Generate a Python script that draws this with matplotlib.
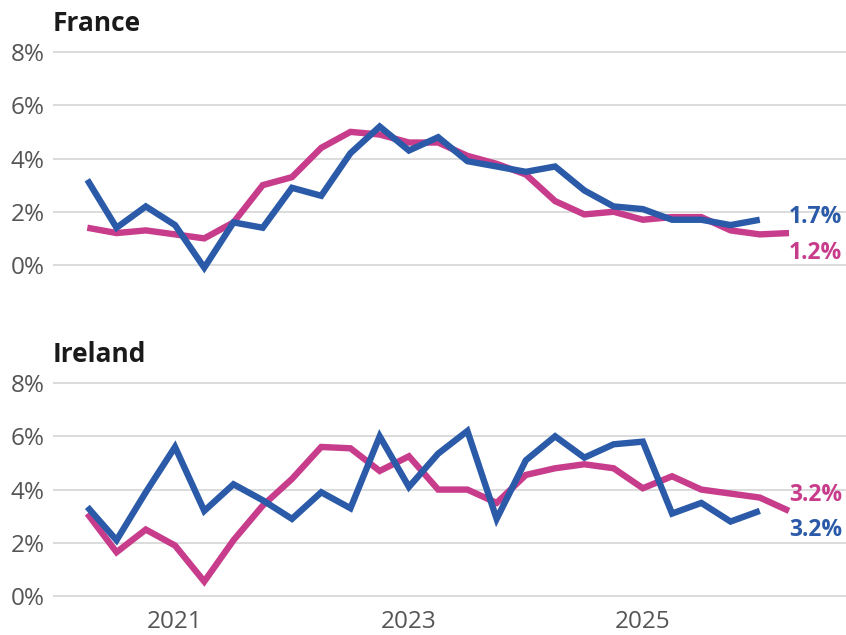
import numpy as np
import matplotlib
matplotlib.use('Agg')
import matplotlib.pyplot as plt

plt.rcParams['font.family'] = ['Open Sans', 'DejaVu Sans']

# quarterly points starting 2020 Q2
quarters = 2020.25 + 0.25 * np.arange(25)

france_blue = [3.2, 1.4, 2.2, 1.5, -0.1, 1.6, 1.4, 2.9, 2.6, 4.2, 5.2, 4.3,
               4.8, 3.9, 3.7, 3.5, 3.7, 2.8, 2.2, 2.1, 1.7, 1.7, 1.5, 1.7]
france_pink = [1.4, 1.2, 1.3, 1.15, 1.0, 1.6, 3.0, 3.3, 4.4, 5.0, 4.9, 4.6,
               4.6, 4.1, 3.8, 3.4, 2.4, 1.9, 2.0, 1.7, 1.8, 1.8, 1.3, 1.15, 1.2]
ireland_blue = [3.35, 2.1, 3.9, 5.6, 3.2, 4.2, 3.6, 2.9, 3.9, 3.3, 6.0, 4.1,
                5.35, 6.2, 2.9, 5.1, 6.0, 5.2, 5.7, 5.8, 3.1, 3.5, 2.8, 3.2]
ireland_pink = [3.1, 1.65, 2.5, 1.9, 0.55, 2.1, 3.4, 4.4, 5.6, 5.55, 4.7, 5.25,
                4.0, 4.0, 3.5, 4.55, 4.8, 4.95, 4.8, 4.05, 4.5, 4.0, 3.85, 3.7, 3.2]

panels = ['France', 'Ireland']
end_labels = [('1.7%', '1.2%'), ('3.2%', '3.2%')]
label_y = [(1.8, 0.45), (2.5, 3.8)]   # blue, pink label heights

BLUE = '#2A5AA8'
PINK = '#C83C8C'
GRID = '#D9D9D9'
TICK = '#555555'

fig = plt.figure(figsize=(8.46, 6.35), dpi=100)
ax_top = fig.add_axes([0.0627, 0.5575, 0.937, 0.369])
ax_bot = fig.add_axes([0.0627, 0.0528, 0.937, 0.3524])

data = [(france_blue, france_pink), (ireland_blue, ireland_pink)]
for k, ax in enumerate([ax_top, ax_bot]):
    blue, pink = data[k]
    ax.plot(quarters[:len(pink)], pink, color=PINK, lw=4.6,
            solid_capstyle='butt', solid_joinstyle='miter', clip_on=False, zorder=3)
    ax.plot(quarters[:len(blue)], blue, color=BLUE, lw=4.6,
            solid_capstyle='butt', solid_joinstyle='miter', clip_on=False, zorder=4)

    ax.set_xlim(2019.957, 2026.735)
    ax.set_yticks([0, 2, 4, 6, 8])
    ax.set_yticklabels(['0%', '2%', '4%', '6%', '8%'])
    ax.grid(axis='y', color=GRID, lw=1.3)
    ax.set_axisbelow(True)
    for s in ax.spines.values():
        s.set_visible(False)
    ax.tick_params(axis='both', length=0, labelsize=17.5, labelcolor=TICK, pad=6)

    ax.annotate(panels[k], xy=(0, 1), xycoords='axes fraction',
                xytext=(0, 11.5), textcoords='offset points', fontsize=19,
                fontweight='bold', color='#1A1A1A', ha='left', va='baseline')

    xl = quarters[len(pink) - 1]
    ax.text(xl, label_y[k][0], end_labels[k][0], color=BLUE, fontsize=16.5,
            fontweight='bold', ha='left', va='center')
    ax.text(xl, label_y[k][1], end_labels[k][1], color=PINK, fontsize=16.5,
            fontweight='bold', ha='left', va='center')

ax_top.set_ylim(-0.6, 8.2)
ax_top.set_xticks([])
ax_bot.set_ylim(-0.2, 8.2)
ax_bot.set_xticks([2021, 2023, 2025])
ax_bot.set_xticklabels(['2021', '2023', '2025'])
ax_bot.tick_params(axis='x', pad=6)

fig.savefig('out.png', dpi=100)
